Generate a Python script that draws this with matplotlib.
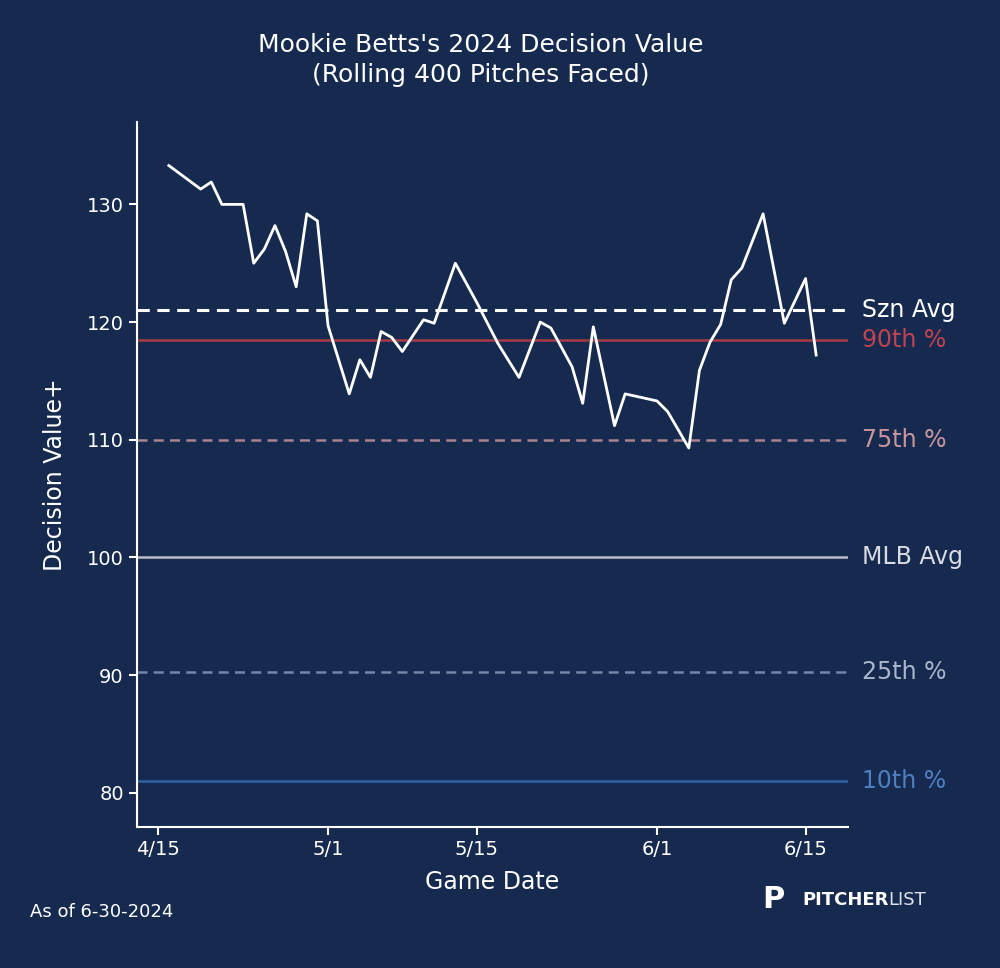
import matplotlib
matplotlib.use("Agg")
import matplotlib.pyplot as plt

days = [1,4,5,6,8,9,10,11,12,13,14,15,16,18,19,20,21,22,23,25,26,28,30,32,34,36,37,39,40,41,43,44,47,48,50,51,52,53,54,55,57,59,61,62]
values = [133.3,131.3,131.9,130.0,130.0,125.0,126.2,128.2,126.0,123.0,129.2,128.6,119.7,113.9,116.8,115.3,119.2,118.7,117.5,120.2,119.9,125.0,121.7,118.2,115.3,120.0,119.5,116.2,113.1,119.6,111.2,113.9,113.3,112.4,109.3,115.9,118.3,119.8,123.6,124.6,129.2,119.9,123.7,117.2]
tick_days = [0,16,30,47,61]
tick_labels = ["4/15","5/1","5/15","6/1","6/15"]
ref_vals = [121.0,118.5,110.0,100.0,90.3,81.0]
ref_labels = ["Szn Avg","90th %","75th %","MLB Avg","25th %","10th %"]
ref_colors = ["#ffffff","#a83a48","#a9838f","#b8bcc8","#7386a6","#2f63a6"]
ref_text_colors = ["#ffffff","#c0434f","#c9959d","#d8dbe3","#a9b6cc","#4f7fc0"]
ref_styles = ["--","-","--","-","--","-"]

bg = "#162a4f"
fig = plt.figure(figsize=(10,9.68), dpi=100, facecolor=bg)
ax = fig.add_axes([0.137, 1-827/968, 0.711, (827-122)/968], facecolor=bg)
for v,c,s,w in zip(ref_vals, ref_colors, ref_styles, [2.2,1.8,1.8,1.8,1.8,1.8]):
    ax.axhline(v, color=c, ls=s, lw=w, dashes=(4,2.5) if s=="--" else (None,None), zorder=1)
ax.plot(days, values, color="white", lw=2, zorder=3)
for v,l,c in zip(ref_vals, ref_labels, ref_text_colors):
    ax.text(1.02, v, l, transform=ax.get_yaxis_transform(), color=c, fontsize=17, va="center", ha="left")
ax.set_xlim(-2,65)
ax.set_ylim(77.1,137)
ax.set_xticks(tick_days)
ax.set_xticklabels(tick_labels)
ax.set_yticks([80,90,100,110,120,130])
for sp in ["top","right"]:
    ax.spines[sp].set_visible(False)
for sp in ["left","bottom"]:
    ax.spines[sp].set_color("white"); ax.spines[sp].set_linewidth(1.5)
ax.tick_params(colors="white", labelsize=14, width=1.5, length=6)
ax.set_xlabel("Game Date", color="white", fontsize=17, labelpad=8)
ax.set_ylabel("Decision Value+", color="white", fontsize=17, labelpad=14)
fig.text(0.481, 1-60/968, "Mookie Betts's 2024 Decision Value\n(Rolling 400 Pitches Faced)", color="white", fontsize=18, ha="center", va="center", linespacing=1.3)
fig.text(0.03, 1-912/968, "As of 6-30-2024", color="white", fontsize=13, ha="left", va="center")
fig.text(0.762, 1-899/968, "P", color="white", fontsize=22, fontweight="bold", ha="left", va="center")
fig.text(0.802, 1-900/968, "PITCHER", color="white", fontsize=13, fontweight="bold", ha="left", va="center")
fig.text(0.888, 1-900/968, "LIST", color="#dde2ea", fontsize=13, ha="left", va="center")
fig.savefig("out.png", dpi=100, facecolor=bg)
